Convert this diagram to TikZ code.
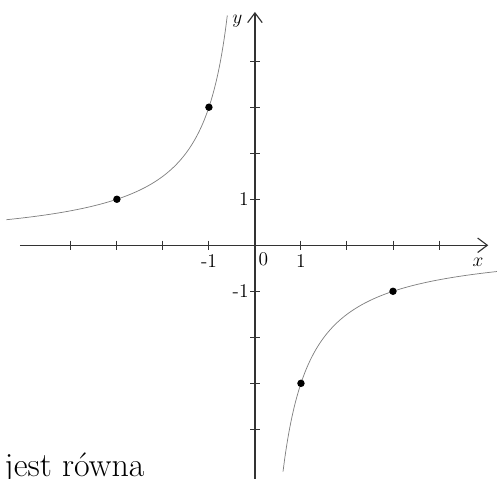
\documentclass[tikz,border=0pt]{standalone}
\usetikzlibrary{arrows.meta}
\definecolor{curvecol}{HTML}{808080}
\definecolor{axiscol}{HTML}{333333}

\begin{document}
\begin{tikzpicture}[
    >={Straight Barb[length=6pt,width=9pt]},
    axis/.style={axiscol, line width=0.7pt},
    axistick/.style={axiscol, line width=0.6pt},
    graph/.style={curvecol, line width=0.45pt},
    dot/.style={circle, fill=black, inner sep=0pt, minimum size=4.6pt},
    lbl/.style={font=\large, inner sep=1.5pt},
  ]

  % frame of the picture
  \useasboundingbox (-5.54,-5.07) rectangle (5.26,5.33);
  \clip (-5.54,-5.07) rectangle (5.26,5.33);

  \coordinate (O) at (0,0);
  \coordinate (xstart) at (-5.11,0);
  \coordinate (xend) at (5.07,0);
  \coordinate (ystart) at (0,-5.2);
  \coordinate (yend) at (0,5.07);

  % Axes
  \draw[axis, ->] (xstart) -- (xend);
  \draw[axis, ->] (ystart) -- (yend);
  \node[lbl] (xlabel) at (4.85,-0.38) {$x$};
  \node[lbl] (ylabel) at (-0.38,4.87) {$y$};

  % Ticks
  \foreach \i in {-4,...,-1,1,2,3,4} {
    \draw[axistick] (\i,0.1) -- (\i,-0.1);
    \draw[axistick] (0.1,\i) -- (-0.1,\i);
  }

  % Tick labels
  \node[lbl, below] (xm1) at (-1,-0.14) {-1};
  \node[lbl, below] (xp1) at (1,-0.14) {1};
  \node[lbl, below right] (zero) at (0.02,-0.1) {0};
  \node[lbl, left] (yp1) at (-0.08,1) {1};
  \node[lbl, left] (ym1) at (-0.08,-1) {-1};

  % Hyperbola y = -3/x
  \draw[graph] plot[domain=-5.4:-0.6, samples=120, smooth] (\x,{-3/\x});
  \draw[graph] plot[domain=0.61:5.3, samples=120, smooth] (\x,{-3/\x});

  % Marked points
  \node[dot] (pa) at (-3,1) {};
  \node[dot] (pb) at (-1,3) {};
  \node[dot] (pc) at (1,-3) {};
  \node[dot] (pd) at (3,-1) {};

  % Text cut off below
  \node[anchor=base west, inner sep=0pt, font=\fontsize{21}{25}\selectfont]
    (tail) at (-5.45,-5.03) {jest równa};

\end{tikzpicture}
\end{document}
